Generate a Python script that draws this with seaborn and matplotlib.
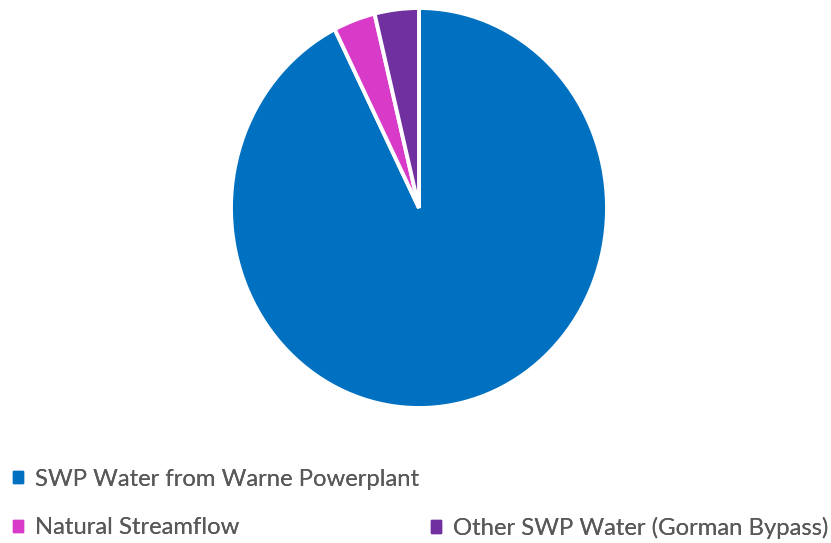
import matplotlib
matplotlib.use("Agg")
import matplotlib.pyplot as plt
from matplotlib.patches import Patch
import seaborn as sns

# Data
categories = ["SWP Water from Warne Powerplant", "Natural Streamflow", "Other SWP Water (Gorman Bypass)"]
shares = [92.6, 3.6, 3.8]
colors = ["#0070C0", "#D83BC8", "#7030A0"]

sns.set_theme(style="white")
plt.rcParams['font.family'] = ['Lato', 'DejaVu Sans']

W, H = 831, 543
fig = plt.figure(figsize=(W / 100, H / 100), dpi=100)
fig.patch.set_facecolor("white")

# pie axes: center (419, 208) px from top, rx 188, ry 200
cx, cy, rx, ry = 419, 208, 188, 200
ax = fig.add_axes([(cx - rx) / W, (H - cy - ry) / H, 2 * rx / W, 2 * ry / H])
wedges, _ = ax.pie(shares, colors=colors, startangle=90, counterclock=False,
                   wedgeprops=dict(edgecolor="white", linewidth=2.8))
for w in wedges:
    w.set_clip_on(False)
ax.set_aspect("auto")
ax.set_xlim(-1, 1)
ax.set_ylim(-1, 1)
ax.axis("off")

# legend entries
fs = 17.2
positions = [(13, 479), (13, 528), (431, 528)]
for cat, col, (px, py) in zip(categories, colors, positions):
    leg = fig.legend(handles=[Patch(facecolor=col, edgecolor=col)], labels=[cat],
                     loc="center left", bbox_to_anchor=(px / W, 1 - py / H),
                     frameon=False, fontsize=fs, borderpad=0, borderaxespad=0,
                     handlelength=0.42, handleheight=0.42, handletextpad=0.5,
                     labelcolor="#595959")
    fig.add_artist(leg)

fig.savefig("out.png", dpi=100, facecolor="white")
